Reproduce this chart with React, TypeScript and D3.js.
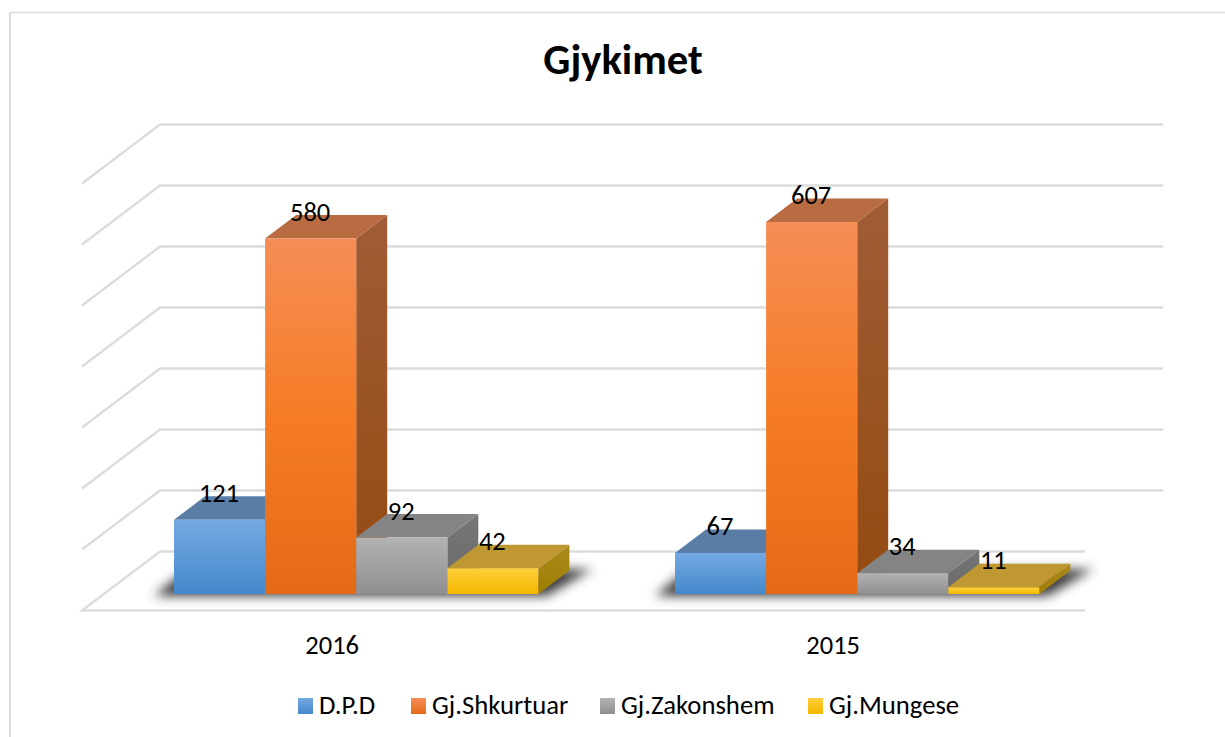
import React from "react";
import * as d3 from "d3";

const title = "Gjykimet";
const categories = ["2016", "2015"];
const seriesNames = ["D.P.D", "Gj.Shkurtuar", "Gj.Zakonshem", "Gj.Mungese"];
const values2016 = [121, 580, 92, 42];
const values2015 = [67, 607, 34, 11];
const gridTicks = [0, 100, 200, 300, 400, 500, 600, 700];
const frontTop = ["#74a9e2", "#f68d56", "#b2b2b2", "#ffcf3a"];
const frontBottom = ["#4488cb", "#e56a18", "#8f8f8f", "#f4b800"];
const topFaces = ["#5a7da6", "#b96c42", "#848484", "#bf9832"];
const sideTop = ["#4f7196", "#a05c36", "#767676", "#ab8a20"];
const sideBottom = ["#33689c", "#944a10", "#6a6a6a", "#a07e00"];
const legendX = [298, 411, 600, 808];

const FONT = "Carlito, Calibri, Lato, sans-serif";
const W = 1225;
const H = 737;
const DX = 31;
const DY = -23.5;
const BASE = 594;
const barW = 91.1;

const gridY = d3.scaleLinear().domain([0, 700]).range([551.5, 124.5]);
const groupX = d3.scalePoint().domain(categories).range([174, 675]);
const seriesX = d3.scaleBand().domain(seriesNames).range([0, barW * 4]);
const barHeight = d3.scaleLinear().domain([0, 700]).range([0, 429]);

function Bar({ group, i, v }: { group: string; i: number; v: number }) {
  const x = groupX(group)! + seriesX(seriesNames[i])!;
  const top = BASE - barHeight(v);
  const pts = (a: number[][]) => a.map((p) => p.join(",")).join(" ");
  return (
    <g>
      <polygon
        points={pts([[x + barW, top], [x + barW + DX, top + DY], [x + barW + DX, BASE + DY], [x + barW, BASE]])}
        fill={`url(#side${i})`}
      />
      <polygon
        points={pts([[x, top], [x + DX, top + DY], [x + barW + DX, top + DY], [x + barW, top]])}
        fill={topFaces[i]}
      />
      <rect x={x} y={top} width={barW} height={barHeight(v)} fill={`url(#front${i})`} />
    </g>
  );
}

function Shadow({ group }: { group: string }) {
  const x0 = groupX(group)!;
  const x1 = x0 + barW * 4;
  const d = d3.line()([
    [x0 - 20, BASE + 2],
    [x0 + 8, BASE - 21],
    [x1 + 54, BASE - 25],
    [x1 + 8, BASE + 2],
  ]);
  return <path d={d + "Z"} fill="#3c3c3c" filter="url(#blur)" />;
}

function Labels({ group, values }: { group: string; values: number[] }) {
  return (
    <>
      {values.map((v, i) => (
        <text
          key={i}
          x={groupX(group)! + seriesX(seriesNames[i])! + barW / 2 - 0.5}
          y={BASE - barHeight(v) - 18}
          textAnchor="middle"
          fontSize={26.5}
          fill="#000"
        >
          {v}
        </text>
      ))}
    </>
  );
}

export default function App() {
  const gridColor = "#dcdcdc";
  const groups: [string, number[]][] = [
    [categories[0], values2016],
    [categories[1], values2015],
  ];
  return (
    <svg
      width={W}
      height={H}
      style={{ position: "absolute", left: 0, top: 0, background: "#fff" }}
      fontFamily={FONT}
    >
      <defs>
        {seriesNames.map((_, i) => (
          <React.Fragment key={i}>
            <linearGradient id={`front${i}`} x1="0" y1="0" x2="0" y2="1">
              <stop offset="0" stopColor={frontTop[i]} />
              <stop offset="0.5" stopColor={i === 1 ? "#f57c25" : d3.interpolateRgb(frontTop[i], frontBottom[i])(0.5)} />
              <stop offset="1" stopColor={frontBottom[i]} />
            </linearGradient>
            <linearGradient id={`side${i}`} x1="0" y1="0" x2="0" y2="1">
              <stop offset="0" stopColor={sideTop[i]} />
              <stop offset="1" stopColor={sideBottom[i]} />
            </linearGradient>
            <linearGradient id={`swatch${i}`} x1="0" y1="0" x2="0" y2="1">
              <stop offset="0" stopColor={frontTop[i]} />
              <stop offset="1" stopColor={frontBottom[i]} />
            </linearGradient>
          </React.Fragment>
        ))}
        <filter id="blur" x="-10%" y="-50%" width="120%" height="200%">
          <feGaussianBlur stdDeviation="5.5" />
        </filter>
      </defs>

      <path d="M1225,12.5H10.5" fill="none" stroke={gridColor} strokeWidth={1.5} />
      <path d="M10,12V737" fill="none" stroke={gridColor} strokeWidth={2} />

      <text x={623} y={74} textAnchor="middle" fontSize={42.5} fontWeight={700} fill="#000">
        {title}
      </text>

      <g fill="none" stroke={gridColor} strokeWidth={2.4}>
        {gridTicks.map((t) => {
          const y = gridY(t);
          return t === 0 ? (
            <path key={t} d={`M160,${y}L82,${y + 59}H1085`} />
          ) : (
            <path key={t} d={`M82,${y + 59}L160,${y}H1163`} />
          );
        })}
        <path d={`M160,${gridY(0)}H1085`} />
      </g>

      {groups.map(([g]) => (
        <Shadow key={g} group={g} />
      ))}
      {groups.map(([g, vals]) =>
        vals.map((v, i) => <Bar key={g + i} group={g} i={i} v={v} />)
      )}
      {groups.map(([g, vals]) => (
        <Labels key={g} group={g} values={vals} />
      ))}

      {categories.map((c) => (
        <text key={c} x={groupX(c)! + barW * 2 - 24} y={654} textAnchor="middle" fontSize={26.5} fill="#000">
          {c}
        </text>
      ))}

      {seriesNames.map((s, i) => (
        <g key={s}>
          <rect x={legendX[i]} y={698} width={15} height={16} fill={`url(#swatch${i})`} />
          <text x={legendX[i] + 21} y={714} fontSize={26.7} fill="#000">
            {s}
          </text>
        </g>
      ))}
    </svg>
  );
}
